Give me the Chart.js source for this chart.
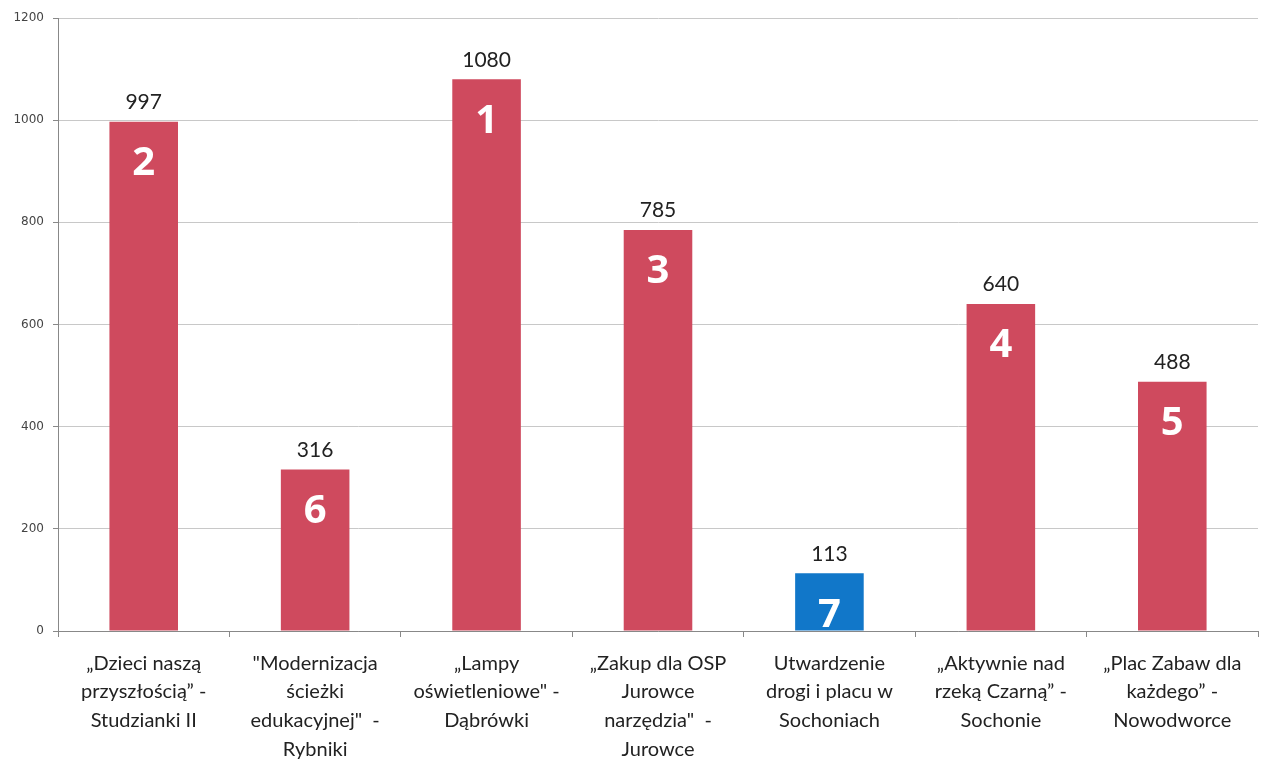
<!DOCTYPE html>
<html>
<head>
<meta charset="utf-8">
<script src="https://cdn.jsdelivr.net/npm/chart.js@4.4.0/dist/chart.umd.min.js"></script>
<style>
html,body{margin:0;padding:0;background:#fff;}
#wrap{width:1267px;height:759px;position:relative;}
</style>
</head>
<body>
<div id="wrap"><canvas id="c" width="1267" height="759"></canvas></div>
<script>
const categories = [
  ["„Dzieci naszą", "przyszłością” -", "Studzianki II"],
  ["\"Modernizacja", "ścieżki", "edukacyjnej\"  -", "Rybniki"],
  ["„Lampy", "oświetleniowe\" -", "Dąbrówki"],
  ["„Zakup dla OSP", "Jurowce", "narzędzia\"  -", "Jurowce"],
  ["Utwardzenie", "drogi i placu w", "Sochoniach"],
  ["„Aktywnie nad", "rzeką Czarną” -", "Sochonie"],
  ["„Plac Zabaw dla", "każdego” -", "Nowodworce"]
];
const votes = [997, 316, 1080, 785, 113, 640, 488];
const ranks = ["2", "6", "1", "3", "7", "4", "5"];
const barColors = ["#cf4a5e", "#cf4a5e", "#cf4a5e", "#cf4a5e", "#1177c9", "#cf4a5e", "#cf4a5e"];
const yTicks = [0, 200, 400, 600, 800, 1000, 1200];

const labelPlugin = {
  id: 'barLabels',
  afterDatasetsDraw(chart) {
    const ctx = chart.ctx;
    const meta = chart.getDatasetMeta(0);
    ctx.save();
    ctx.textAlign = 'center';
    meta.data.forEach((bar, i) => {
      ctx.fillStyle = '#222';
      ctx.font = '21px Lato, "Open Sans", sans-serif';
      ctx.textBaseline = 'bottom';
      ctx.fillText(String(votes[i]), bar.x, bar.y - 9);
      ctx.fillStyle = '#ffffff';
      ctx.font = 'bold 40px "Open Sans", Lato, sans-serif';
      ctx.textBaseline = 'middle';
      ctx.fillText(ranks[i], bar.x, bar.y + 42);
    });
    ctx.restore();
  }
};

new Chart(document.getElementById('c'), {
  type: 'bar',
  data: {
    labels: categories,
    datasets: [{
      data: votes,
      backgroundColor: barColors,
      borderWidth: 0,
      categoryPercentage: 1.0,
      barPercentage: 0.4
    }]
  },
  options: {
    responsive: false,
    animation: false,
    devicePixelRatio: 1,
    layout: { padding: { top: 18, right: 9, left: 0, bottom: 0 } },
    plugins: { legend: { display: false }, tooltip: { enabled: false } },
    scales: {
      x: {
        grid: { offset: true, drawOnChartArea: false, drawTicks: true, tickLength: 6, color: '#888' },
        border: { color: '#888', width: 1 },
        ticks: {
          color: '#222',
          font: { family: 'Lato, "Open Sans", sans-serif', size: 20, lineHeight: 1.43 },
          maxRotation: 0, autoSkip: false, padding: 12
        },
        afterFit(scale) { scale.height = 128; }
      },
      y: {
        min: 0, max: 1200,
        afterBuildTicks(scale) { scale.ticks = yTicks.map(v => ({ value: v })); },
        grid: { color: '#c8c8c8', tickLength: 5, drawTicks: true, tickColor: '#888' },
        border: { color: '#888', width: 1 },
        ticks: {
          color: '#444',
          font: { family: '"DejaVu Sans", sans-serif', size: 12 },
          padding: 9,
          callback: (v) => String(v)
        },
        afterFit(scale) { scale.width = 58; }
      }
    }
  },
  plugins: [labelPlugin]
});
</script>
</body>
</html>
